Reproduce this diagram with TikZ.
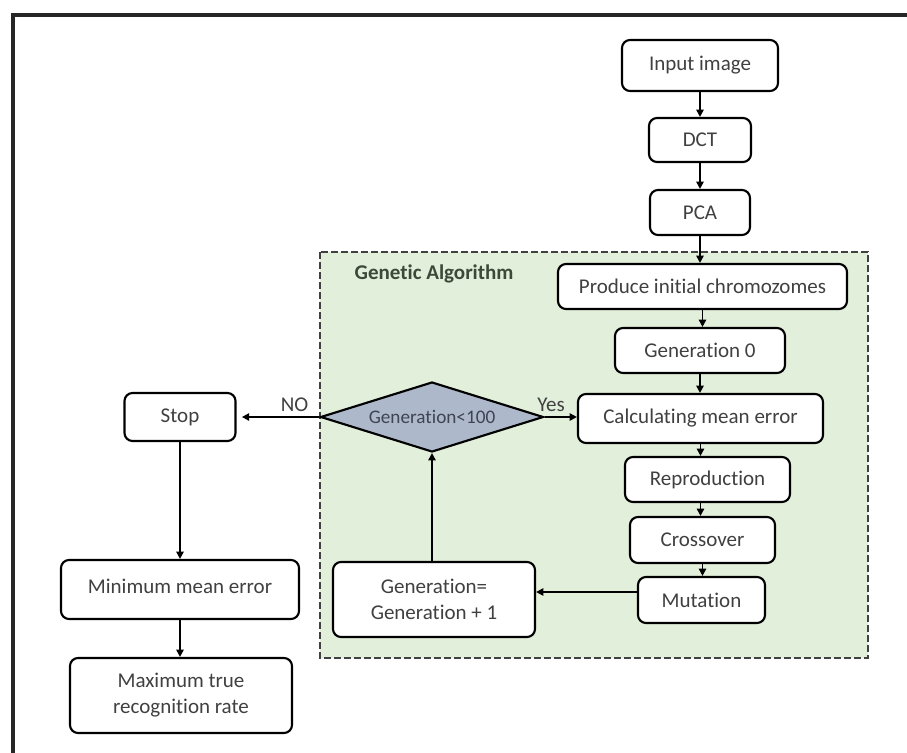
\documentclass[tikz,border=0pt]{standalone}
\usepackage{fontspec}
\setmainfont{Carlito}[Ligatures=NoCommon]
\usetikzlibrary{shapes.geometric,arrows.meta}
\newdimen\pix
\pix=0.75pt
\definecolor{gagreen}{HTML}{E2EFDA}
\definecolor{decblue}{HTML}{ADB9CA}
\definecolor{boxtext}{HTML}{404040}
\definecolor{dectext}{HTML}{3E4452}
\definecolor{galabel}{HTML}{3C4839}

\begin{document}
\begin{tikzpicture}[x=0.75pt,y=-0.75pt,
    box/.style={draw,rounded corners=6pt,line width=1.6pt,fill=white,text=boxtext,align=center,inner sep=0pt,font=\fontsize{15.75}{19.5}\selectfont},
    flow/.style={line width=1.4pt,-{Triangle[length=5.5pt,width=5.5pt]}}]
    \useasboundingbox (0,0) rectangle (907,753);
    \draw[line width=2.6pt,black!85] (13,753) -- (13,15) -- (907,15);
    \draw[fill=gagreen,draw=black!75,line width=1.4pt,dash pattern=on 5pt off 2.5pt] (320,252) rectangle (868,658);
    \node[anchor=west,text=galabel,font=\bfseries\fontsize{15.75}{19.5}\selectfont] (galbl) at (350,274) {Genetic Algorithm};

    \node[box,minimum width=156\pix,minimum height=51\pix] (inp) at (700,65.5) {Input image};
    \node[box,minimum width=102\pix,minimum height=44\pix] (dct) at (700,140) {DCT};
    \node[box,minimum width=100\pix,minimum height=45\pix] (pca) at (700,212.5) {PCA};
    \node[box,minimum width=289\pix,minimum height=45\pix] (prod) at (702.5,286.5) {Produce initial chromozomes};
    \node[box,minimum width=170\pix,minimum height=45\pix] (gen0) at (700,350.5) {Generation 0};
    \node[box,minimum width=245\pix,minimum height=49\pix] (calc) at (700.5,418.5) {Calculating mean error};
    \node[box,minimum width=165\pix,minimum height=45\pix] (repro) at (707.5,479.5) {Reproduction};
    \node[box,minimum width=145\pix,minimum height=46\pix] (cross) at (702.5,540) {Crossover};
    \node[box,minimum width=127\pix,minimum height=46\pix] (mut) at (701.5,600) {Mutation};
    \node[box,minimum width=202\pix,minimum height=75\pix] (genup) at (434,599.5) {Generation=\\Generation + 1};
    \node[draw,diamond,aspect=3.2,fill=decblue,line width=1.6pt,minimum width=223\pix,minimum height=70\pix,inner sep=0pt,text=dectext,font=\fontsize{14.4}{17}\selectfont] (dec) at (432,417) {Generation<100};
    \node[box,minimum width=111\pix,minimum height=48\pix] (stop) at (180,417) {Stop};
    \node[box,minimum width=238\pix,minimum height=59\pix,text depth=7\pix] (minerr) at (180,589.5) {Minimum mean error};
    \node[box,minimum width=222\pix,minimum height=75\pix] (maxrate) at (181,695.5) {Maximum true\\recognition rate};

    \draw[flow] (inp.south) -- (inp.south |- dct.north);
    \draw[flow] (dct.south) -- (dct.south |- pca.north);
    \draw[flow] (pca.south) -- (pca.south |- prod.north);
    \draw[flow] (prod.south) -- (prod.south |- gen0.north);
    \draw[flow] (gen0.south) -- (gen0.south |- calc.north);
    \draw[flow] (calc.south) -- (calc.south |- repro.north);
    \draw[flow] (calc.south |- repro.south) -- (calc.south |- cross.north);
    \draw[flow] (cross.south) -- (cross.south |- mut.north);
    \draw[flow] ([yshift=6pt]mut.west) -- ([yshift=6pt]mut.west -| genup.east);
    \draw[flow] (dec.south |- genup.north) -- (dec.south);
    \draw[flow] (dec.east) -- (dec.east -| calc.west) node[pos=0.2,above,text=boxtext,font=\fontsize{15.75}{19.5}\selectfont] {Yes};
    \draw[flow,shorten >=4pt] (dec.west) -- (dec.west -| stop.east) node[pos=0.3,above,text=boxtext,font=\fontsize{15.75}{19.5}\selectfont] {NO};
    \draw[flow] (stop.south) -- (stop.south |- minerr.north);
    \draw[flow] (minerr.south) -- (minerr.south |- maxrate.north);
\end{tikzpicture}
\end{document}
